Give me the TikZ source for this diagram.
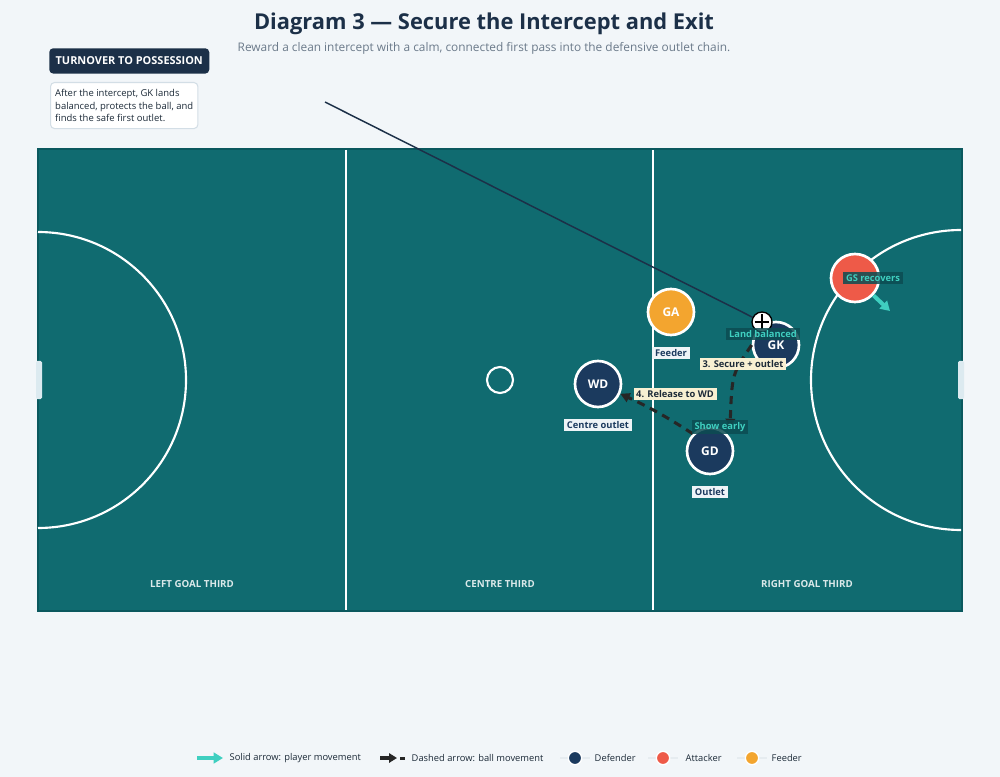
\documentclass[tikz,border=0pt]{standalone}
\usepackage{fontspec}
\setmainfont{Open Sans}
\usetikzlibrary{arrows.meta}
\definecolor{bg}{HTML}{F2F6F9}
\definecolor{pitch}{HTML}{106B70}
\definecolor{pitchedge}{HTML}{0B585E}
\definecolor{navy}{HTML}{1B3A5E}
\definecolor{redp}{HTML}{EE5A48}
\definecolor{orangep}{HTML}{F3A52F}
\definecolor{tealm}{HTML}{3FCFC0}
\definecolor{darklab}{HTML}{0C4C52}
\definecolor{cream}{HTML}{F8F0D2}
\definecolor{ink}{HTML}{1C2A38}
\definecolor{titlec}{HTML}{1C3048}
\definecolor{subc}{HTML}{6B7A8A}
\definecolor{lightlab}{HTML}{EEF4F7}
\definecolor{post}{HTML}{DCEAF0}
\definecolor{boxedge}{HTML}{D3DEE6}
\definecolor{legline}{HTML}{E6ECF0}
\begin{document}
\begin{tikzpicture}[x=0.75pt,y=-0.75pt,
  player/.style={circle,draw=white,line width=2pt,minimum size=34.5pt,inner sep=0pt,text=white,font=\bfseries\fontsize{9}{10}\selectfont},
  passline/.style={draw=black!85,line width=2.3pt,dash pattern=on 6pt off 4.5pt,-{Triangle[length=7pt,width=7pt]}},
  moveline/.style={draw=tealm,line width=3pt,-{Triangle[length=7pt,width=8pt]}},
  tag/.style={fill=lightlab,text=navy,inner sep=2pt,font=\bfseries\fontsize{7}{8}\selectfont},
  steptag/.style={fill=cream,text=ink,inner sep=2pt,font=\bfseries\fontsize{7}{8}\selectfont},
  cuetag/.style={fill=darklab,fill opacity=0.85,text opacity=1,text=tealm,inner sep=2pt,font=\bfseries\fontsize{7}{8}\selectfont},
  zonelab/.style={text=white!85!pitch,font=\bfseries\fontsize{7.3}{8}\selectfont},
  legtext/.style={text=ink,anchor=west,font=\fontsize{7}{8}\selectfont},
  legdot/.style={circle,draw=white,line width=1pt,minimum size=10pt,inner sep=0pt}]
\fill[bg] (0,0) rectangle (1000,777);
\useasboundingbox (0,0) rectangle (1000,777);
% titles
\node[text=titlec,font=\bfseries\fontsize{16.4}{18}\selectfont] (title) at (484,24) {Diagram 3 — Secure the Intercept and Exit};
\node[text=subc,font=\fontsize{8.9}{11}\selectfont] (subtitle) at (484,48) {Reward a clean intercept with a calm, connected first pass into the defensive outlet chain.};
% callout
\node[fill=titlec,rounded corners=3pt,text=white,font=\bfseries\fontsize{8.2}{9}\selectfont,minimum width=120pt,minimum height=19pt,inner xsep=3pt,anchor=north west] (head) at (49,48) {TURNOVER TO POSSESSION};
\node[fill=white,draw=boxedge,line width=0.8pt,rounded corners=3pt,text=ink,align=left,anchor=north west,font=\fontsize{7.1}{9.5}\selectfont,inner xsep=3.5pt,inner ysep=5pt] (body) at (50,82) {After the intercept, GK lands\\balanced, protects the ball, and\\finds the safe first outlet.};
% pitch
\draw[draw=pitchedge,line width=2.2pt,fill=pitch] (38,149) rectangle (962,611);
\draw[white,line width=1.6pt] (346,150) -- (346,610);
\draw[white,line width=1.6pt] (653,150) -- (653,610);
\draw[white,line width=1.6pt] (38,232) arc[start angle=-90,end angle=90,radius=148];
\draw[white,line width=1.6pt] (961,230) arc[start angle=-90,end angle=-270,radius=150];
\draw[white,line width=1.6pt] (500,380) circle[radius=13];
\fill[post,rounded corners=1pt] (36,361) rectangle (42,399);
\fill[post,rounded corners=1pt] (958,361) rectangle (964,399);
\node[zonelab] (lz) at (192,584) {LEFT GOAL THIRD};
\node[zonelab] (cz) at (500,584) {CENTRE THIRD};
\node[zonelab] (rz) at (807,584) {RIGHT GOAL THIRD};
% players
\node[player,fill=orangep] (GA) at (671,312) {GA};
\node[player,fill=navy] (GK) at (776,345) {GK};
\node[player,fill=navy] (WD) at (598,384) {WD};
\node[player,fill=navy] (GD) at (710,451) {GD};
\node[player,fill=redp,minimum size=36pt] (GS) at (855,278) {};
% ball and pointer
\node[circle,fill=white,draw=black,line width=1pt,minimum size=15pt,inner sep=0pt] (ball) at (762,322) {};
\draw[black,line width=0.8pt] (ball.north) ++(0,2.5) -- ([yshift=2.5]ball.south);
\draw[black,line width=0.8pt] ([xshift=2.5]ball.west) -- ([xshift=-2.5]ball.east);
\coordinate (callpt) at (325,102);
\draw[titlec,line width=1.1pt] (callpt) -- (ball);
% ball movement
\coordinate (p3end) at (730,428);
\draw[passline] (GK.west) .. controls (732,374) .. (p3end);
\draw[passline] (GD.north west) to[bend right=4] (WD);
% player movement
\coordinate (gsend) at (890,311);
\draw[moveline] (GS) -- (gsend);
% labels
\node[tag] (feeder) at (671,353) {Feeder};
\node[tag] (centre) at (598,425) {Centre outlet};
\node[tag] (outlet) at (710,492) {Outlet};
\node[cuetag] (land) at (763,334) {Land balanced};
\node[steptag] (s3) at (743,364) {3. Secure + outlet};
\node[steptag] (s4) at (675,394) {4. Release to WD};
\node[cuetag] (show) at (720,427) {Show early};
\node[cuetag] (gsrec) at (873,278) {GS recovers};
% legend
\coordinate (la1) at (197,758); \coordinate (la2) at (223,758);
\draw[moveline,line width=2.5pt] (la1) -- (la2);
\node[legtext] (l1) at (225,758) {Solid arrow: player movement};
\coordinate (lb1) at (380,758); \coordinate (lb2) at (397,758);
\draw[draw=black!85,line width=2.3pt,-{Triangle[length=6pt,width=7pt]}] (lb1) -- (lb2);
\fill[black!85] (400,756.5) rectangle (405,759.5);
\node[legtext] (l2) at (407,758) {Dashed arrow: ball movement};
\draw[legline,line width=1pt] (560,758) -- (590,758);
\node[legdot,fill=navy] (d1) at (575,758) {};
\node[legtext] (l3) at (590,758) {Defender};
\draw[legline,line width=1pt] (648,758) -- (678,758);
\node[legdot,fill=redp] (d2) at (663,758) {};
\node[legtext] (l4) at (681,758) {Attacker};
\draw[legline,line width=1pt] (737,758) -- (767,758);
\node[legdot,fill=orangep] (d3) at (752,758) {};
\node[legtext] (l5) at (767,758) {Feeder};
\end{tikzpicture}
\end{document}
